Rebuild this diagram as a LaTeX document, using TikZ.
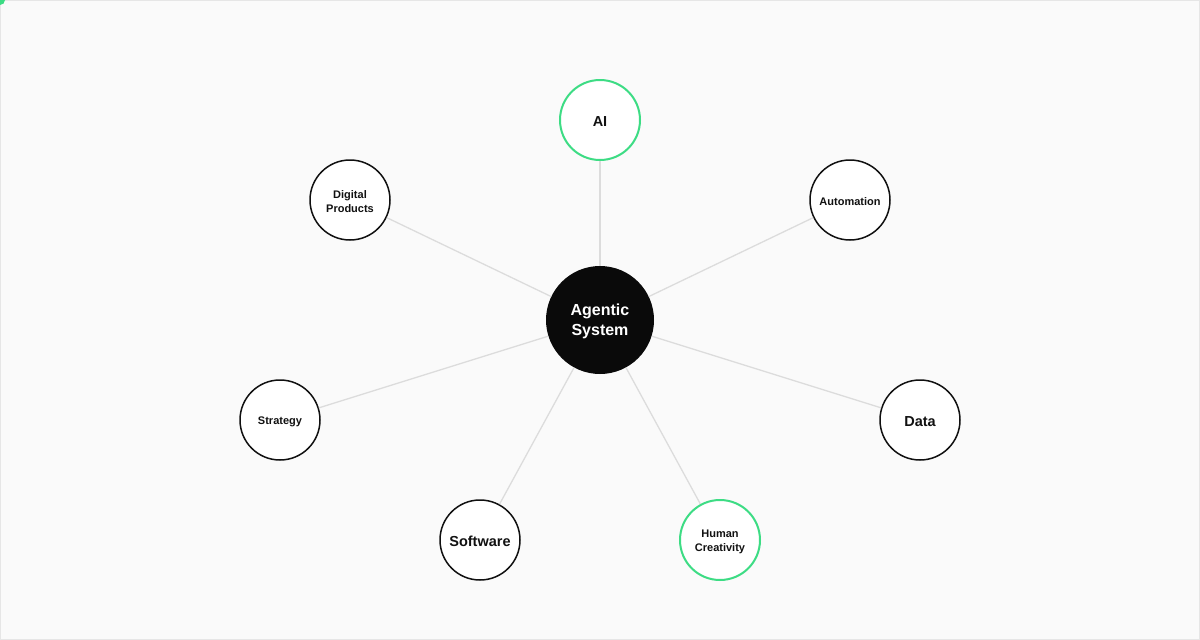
\documentclass[tikz,border=0pt]{standalone}
\usepackage{fontspec}
\setmainfont{Liberation Sans}
\definecolor{bg}{HTML}{FAFAFA}
\definecolor{frame}{HTML}{E6E6E6}
\definecolor{link}{HTML}{DCDCDC}
\definecolor{accent}{HTML}{3DDC84}
\definecolor{ink}{HTML}{111111}
\definecolor{core}{HTML}{0A0A0A}
\begin{document}
\begin{tikzpicture}[x=1pt,y=-1pt,
  sat/.style={circle,draw=ink,line width=1.5pt,fill=white,minimum size=80pt,inner sep=0pt},
  satg/.style={sat,draw=accent,line width=2pt},
  small/.style={text=ink,font=\bfseries\fontsize{11}{14}\selectfont},
  big/.style={text=ink,font=\bfseries\fontsize{14.5}{17}\selectfont},
  corenode/.style={circle,fill=core,draw=none,minimum size=108pt,inner sep=0pt},
  spoke/.style={draw=link,line width=1.3pt},
  lbl/.style={align=center,inner sep=0pt,yshift=-1.5pt}]
\useasboundingbox (0,0) rectangle (1200,640);
\fill[bg] (0,0) rectangle (1200,640);
\draw[frame,line width=1pt] (0.5,0.5) rectangle (1199.5,639.5);
\fill[accent] (0,0) -- (5,0) arc[start angle=0,end angle=90,radius=5] -- cycle;
\node[corenode] (c) at (600,320) {};
\node[satg] (ai) at (600,120) {};
\node[sat] (auto) at (850,200) {};
\node[sat] (dig) at (350,200) {};
\node[sat] (str) at (280,420) {};
\node[sat] (data) at (920,420) {};
\node[sat] (soft) at (480,540) {};
\node[satg] (hum) at (720,540) {};
\node[lbl,text=white,font=\bfseries\fontsize{16}{20}\selectfont] (tc) at (c) {Agentic\\System};
\node[lbl,big] (tai) at (ai) {AI};
\node[lbl,small] (tauto) at (auto) {Automation};
\node[lbl,small] (tdig) at (dig) {Digital\\Products};
\node[lbl,small] (tstr) at (str) {Strategy};
\node[lbl,big] (tdata) at (data) {Data};
\node[lbl,big] (tsoft) at (soft) {Software};
\node[lbl,small] (thum) at (hum) {Human\\Creativity};
\foreach \n in {ai,auto,dig,str,data,soft,hum}{\path[spoke] (c) -- (\n);}
\end{tikzpicture}
\end{document}
